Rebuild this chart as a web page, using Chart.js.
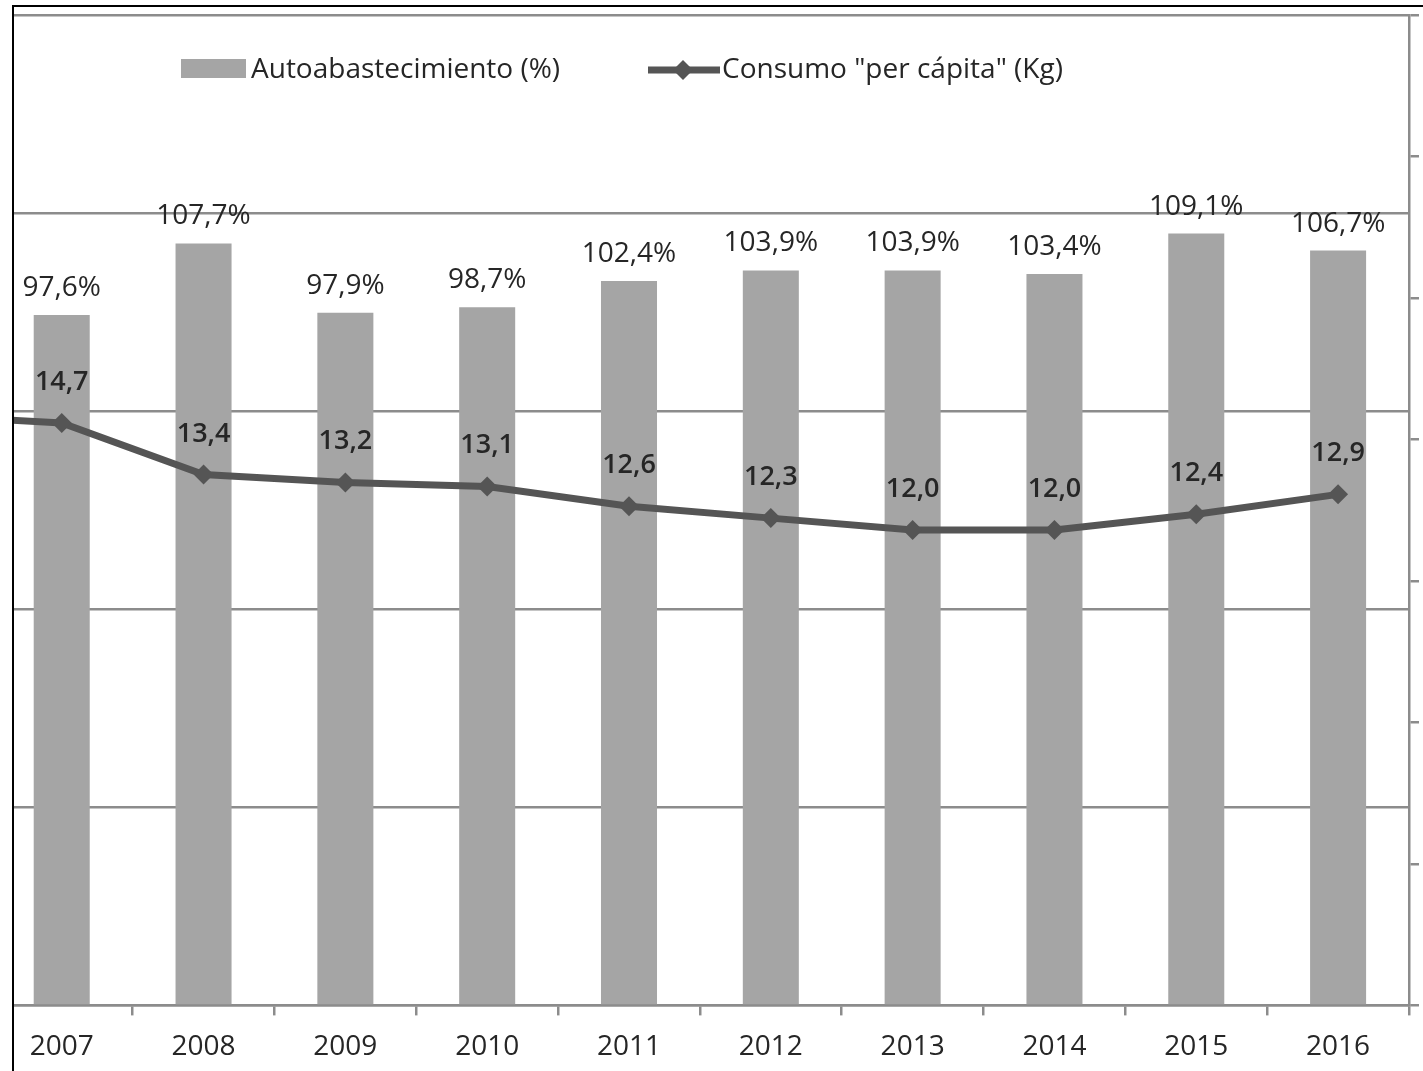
<!DOCTYPE html>
<html lang="es">
<head>
<meta charset="utf-8">
<title>Autoabastecimiento y consumo per cápita</title>
<script src="https://cdn.jsdelivr.net/npm/chart.js@4.4.1/dist/chart.umd.min.js"></script>
<style>
    html, body { margin: 0; padding: 0; background: #fff; width: 1423px; height: 1071px; overflow: hidden; }
    /* Marco negro (borde superior e izquierdo) que recorta el gráfico */
    #marco {
        position: absolute; left: 12px; top: 5px;
        width: 1440px; height: 1100px;
        border-left: 2px solid #000; border-top: 2px solid #000;
        overflow: hidden;
    }
    /* El lienzo se desplaza a la izquierda: el año 2006 queda fuera del recorte */
    #grafico { position: absolute; left: -175px; top: -7px; }
</style>
</head>
<body>
<div id="marco">
    <canvas id="grafico" width="1600" height="1080"></canvas>
</div>
<script>
// Datos (2006 sólo se ve como el tramo inicial de la línea)
const anios = ['2006', '2007', '2008', '2009', '2010', '2011', '2012', '2013', '2014', '2015', '2016'];
const autoabastecimiento = [null, 97.6, 107.7, 97.9, 98.7, 102.4, 103.9, 103.9, 103.4, 109.1, 106.7];
const consumoPerCapita = [14.9, 14.7, 13.4, 13.2, 13.1, 12.6, 12.3, 12.0, 12.0, 12.4, 12.9];
const nombresSeries = ['Autoabastecimiento (%)', 'Consumo "per cápita" (Kg)'];

const FUENTE = '"Open Sans", "Noto Sans", sans-serif';
const COLOR_TEXTO = '#262626';
const COLOR_BARRA = '#a5a5a5';
const COLOR_LINEA = '#555555';
const COLOR_REJILLA = '#8c8c8c';
const DESPLAZAMIENTO_X = 161; // px que el lienzo queda a la izquierda de la página

function formatoDecimal(valor) {
    return valor.toFixed(1).replace('.', ',');
}

/**
 * Dibuja las etiquetas de valor encima de barras y puntos.
 */
const etiquetasDatos = {
    id: 'etiquetasDatos',
    afterDatasetsDraw(chart) {
        const ctx = chart.ctx;
        ctx.save();
        ctx.fillStyle = COLOR_TEXTO;
        ctx.textAlign = 'center';
        ctx.textBaseline = 'alphabetic';

        const metaBarras = chart.getDatasetMeta(0);
        ctx.font = `28px ${FUENTE}`;
        metaBarras.data.forEach((barra, i) => {
            const valor = autoabastecimiento[i];
            if (valor === null) return;
            ctx.fillText(`${formatoDecimal(valor)}%`, barra.x, barra.y - 19);
        });

        const metaLinea = chart.getDatasetMeta(1);
        ctx.font = `600 27px ${FUENTE}`;
        metaLinea.data.forEach((punto, i) => {
            ctx.fillText(formatoDecimal(consumoPerCapita[i]), punto.x, punto.y - 33);
        });
        ctx.restore();
    }
};

/**
 * Leyenda estilo Excel dentro del área de trazado (no ocupa espacio en el layout).
 */
const leyendaExcel = {
    id: 'leyendaExcel',
    afterDraw(chart) {
        const ctx = chart.ctx;
        const base = 78; // línea base del texto
        ctx.save();
        ctx.font = `28px ${FUENTE}`;
        ctx.fillStyle = COLOR_TEXTO;
        ctx.textAlign = 'left';
        ctx.textBaseline = 'alphabetic';

        // Barras: rectángulo gris
        const x1 = 181 + DESPLAZAMIENTO_X;
        ctx.fillStyle = chart.data.datasets[0].backgroundColor;
        ctx.fillRect(x1, 59, 65, 19);
        ctx.fillStyle = COLOR_TEXTO;
        ctx.fillText(chart.data.datasets[0].label, x1 + 70, base);

        // Línea con marcador de rombo
        const x2 = 648 + DESPLAZAMIENTO_X;
        const yLinea = 70;
        ctx.strokeStyle = chart.data.datasets[1].borderColor;
        ctx.lineWidth = 7;
        ctx.beginPath();
        ctx.moveTo(x2, yLinea);
        ctx.lineTo(x2 + 72, yLinea);
        ctx.stroke();
        const xc = x2 + 35;
        ctx.fillStyle = chart.data.datasets[1].borderColor;
        ctx.beginPath();
        ctx.moveTo(xc, yLinea - 10);
        ctx.lineTo(xc + 10, yLinea);
        ctx.lineTo(xc, yLinea + 10);
        ctx.lineTo(xc - 10, yLinea);
        ctx.closePath();
        ctx.fill();
        ctx.fillStyle = COLOR_TEXTO;
        ctx.fillText(chart.data.datasets[1].label, x2 + 74, base);
        ctx.restore();
    }
};

Chart.defaults.font.family = FUENTE;
Chart.defaults.font.size = 28;
Chart.defaults.color = COLOR_TEXTO;

const ctx = document.getElementById('grafico');

new Chart(ctx, {
    type: 'bar',
    data: {
        labels: anios,
        datasets: [
            {
                type: 'bar',
                label: nombresSeries[0],
                data: autoabastecimiento,
                backgroundColor: COLOR_BARRA,
                barPercentage: 0.395,
                categoryPercentage: 1,
                yAxisID: 'y',
                order: 2
            },
            {
                type: 'line',
                label: nombresSeries[1],
                data: consumoPerCapita,
                borderColor: COLOR_LINEA,
                backgroundColor: COLOR_LINEA,
                borderWidth: 7,
                tension: 0,
                pointStyle: 'rectRot',
                pointRadius: 10,
                pointBorderWidth: 0,
                pointBackgroundColor: COLOR_LINEA,
                yAxisID: 'y1',
                order: 1
            }
        ]
    },
    options: {
        responsive: false,
        animation: false,
        layout: {
            padding: { top: 15, right: 20, bottom: 1, left: 0 }
        },
        plugins: {
            legend: { display: false },
            tooltip: { enabled: false }
        },
        scales: {
            x: {
                offset: true,
                grid: {
                    offset: true,
                    drawOnChartArea: false,
                    drawTicks: true,
                    tickLength: 10,
                    color: COLOR_REJILLA,
                    lineWidth: 2.5
                },
                border: { display: true, color: COLOR_REJILLA, width: 2.5 },
                ticks: {
                    padding: 15,
                    maxRotation: 0,
                    autoSkip: false,
                    color: COLOR_TEXTO,
                    font: { size: 28 }
                }
            },
            y: {
                position: 'left',
                min: 0,
                max: 140,
                ticks: { display: false, stepSize: 28 },
                grid: { color: COLOR_REJILLA, lineWidth: 2.5, drawTicks: false },
                border: { display: false }
            },
            y1: {
                position: 'right',
                min: 0,
                max: 25,
                ticks: { display: false, count: 8 },
                grid: {
                    drawOnChartArea: false,
                    drawTicks: true,
                    tickLength: 10,
                    color: COLOR_REJILLA,
                    lineWidth: 2.5
                },
                border: { display: true, color: COLOR_REJILLA, width: 2.5 }
            }
        }
    },
    plugins: [etiquetasDatos, leyendaExcel]
});
</script>
</body>
</html>
